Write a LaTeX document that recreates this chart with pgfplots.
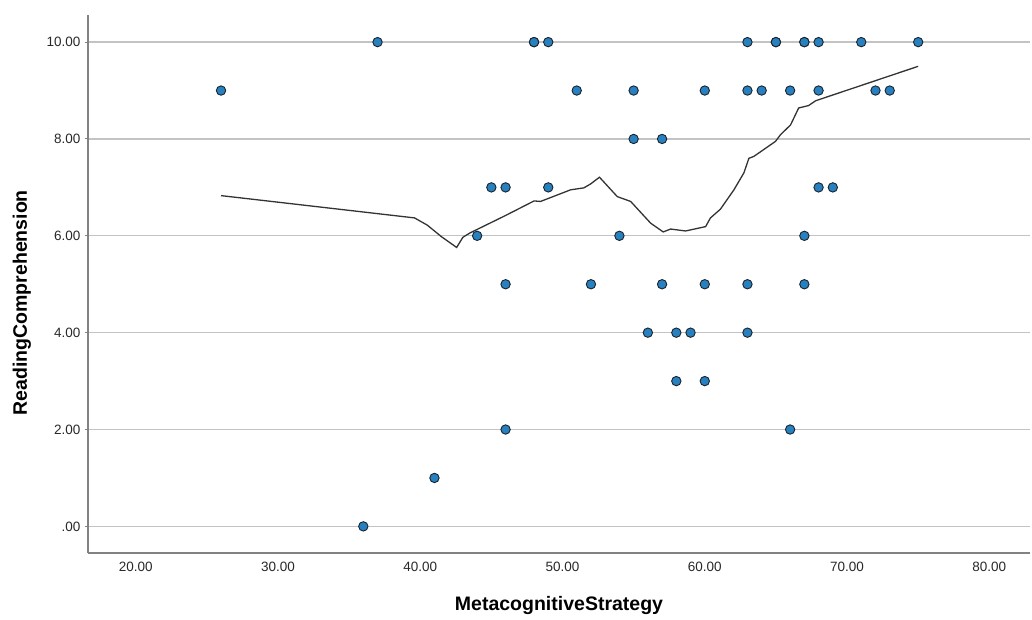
\documentclass[border=0pt]{standalone}
\usepackage{pgfplots}
\pgfplotsset{compat=1.18}
\usepackage{fontspec}
\setmainfont{Liberation Sans}
\definecolor{ptfill}{RGB}{40,128,190}
\definecolor{ptedge}{RGB}{25,35,45}
\definecolor{gridc}{RGB}{195,195,195}
\definecolor{axc}{RGB}{130,130,130}
\definecolor{tickc}{RGB}{40,40,40}
\begin{document}
\begin{tikzpicture}[x=1pt,y=1pt]
\begin{axis}[
  at={(88pt,66pt)}, anchor=south west,
  scale only axis, width=942pt, height=538pt,
  xmin=16.65, xmax=82.86, ymin=-0.55, ymax=10.56,
  axis x line=bottom, axis y line=left,
  axis line style={axc, line width=1.3pt, -},
  xtick={20,30,40,50,60,70,80},
  xticklabels={20.00,30.00,40.00,50.00,60.00,70.00,80.00},
  ytick={0,2,4,6,8,10},
  yticklabels={.00,2.00,4.00,6.00,8.00,10.00},
  ymajorgrids, grid style={gridc, line width=1.3pt},
  major x tick style={draw=none},
  major y tick style={axc, line width=1pt},
  tick align=outside, major tick length=3pt,
  ticklabel style={font=\fontsize{13.5}{16}\selectfont, text=tickc},
  xticklabel style={yshift=-3pt},
  yticklabel style={xshift=-1pt},
  /pgf/number format/assume math mode=true,
  xlabel={\textbf{MetacognitiveStrategy}},
  ylabel={\textbf{ReadingComprehension}},
  label style={font=\fontsize{19.5}{22}\selectfont},
  xlabel style={at={(axis description cs:0.5,0)}, anchor=center, yshift=-52pt},
  ylabel style={at={(axis description cs:0,0.465)}, anchor=center, rotate=0, yshift=66pt},
  clip=false,
]
\addplot[color=black!80, line width=1.3pt, no marks] coordinates {
(26,6.83) (39.6,6.37) (40.5,6.22) (41.5,5.98) (42.56,5.76) (43.0,5.97) (43.5,6.06)
(46,6.42) (47,6.57) (48.0,6.72) (48.46,6.71) (50.57,6.95) (51.5,6.99) (51.97,7.07)
(52.6,7.21) (53.85,6.81) (54.79,6.71) (56.2,6.26) (57.08,6.08) (57.6,6.14) (58.65,6.10)
(60.06,6.19) (60.4,6.37) (61.1,6.55) (62.05,6.95) (62.75,7.30) (63.1,7.6) (63.45,7.64)
(64.97,7.95) (65.33,8.09) (66.03,8.29) (66.6,8.64) (67.3,8.69) (67.8,8.79) (75,9.50)
};
\addplot[only marks, mark=*, mark size=4.7pt,
  mark options={fill=ptfill, draw=ptedge, line width=0.9pt}] coordinates {
(37,10) (48,10) (48,10) (49,10) (63,10) (65,10) (65,10) (67,10) (67,10) (68,10) (71,10) (75,10)
(26,9) (51,9) (55,9) (60,9) (63,9) (64,9) (66,9) (68,9) (72,9) (73,9)
(55,8) (57,8)
(45,7) (46,7) (49,7) (68,7) (69,7)
(44,6) (54,6) (67,6)
(46,5) (52,5) (57,5) (60,5) (63,5) (67,5)
(56,4) (58,4) (59,4) (63,4)
(58,3) (60,3)
(46,2) (66,2)
(41,1)
(36,0)
};
\end{axis}
\path (0,0) rectangle (1032pt,619pt);
\end{tikzpicture}
\end{document}
